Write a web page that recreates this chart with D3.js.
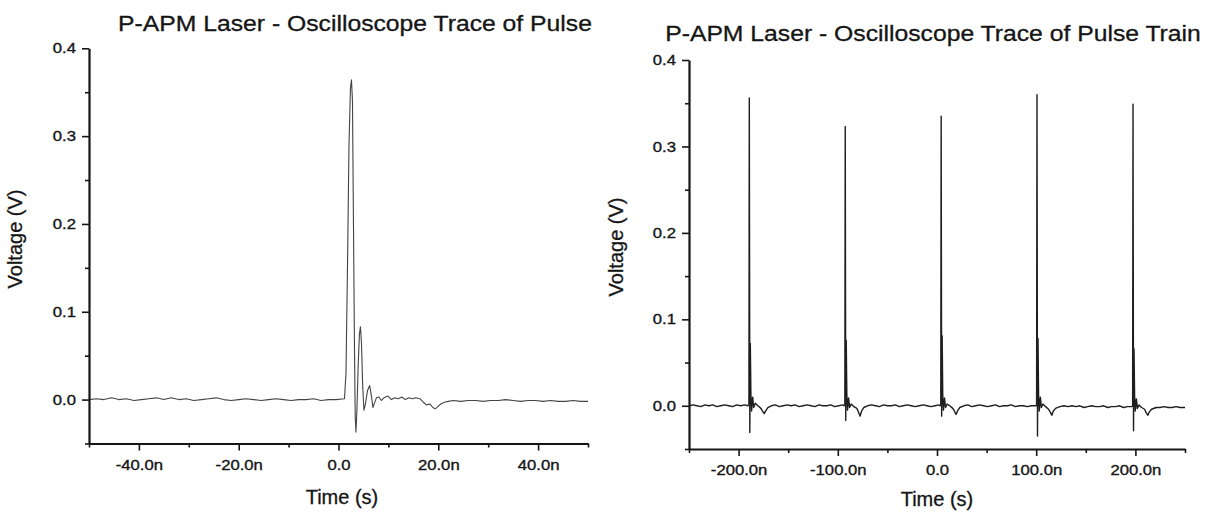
<!DOCTYPE html>
<html>
<head>
<meta charset="utf-8">
<script src="https://cdn.jsdelivr.net/npm/d3@7"></script>
<style>
  body { margin: 0; background: #fff; }
  svg { display: block; font-family: "Liberation Sans", Arial, sans-serif; }
</style>
</head>
<body>
<svg id="chart" width="1220" height="512"></svg>
<script>
// single pulse, [time (ns), voltage (V)]
var pulseTrace = [
  [-50, 0.000], [-48.5, 0.001], [-47, 0.000], [-45.5, 0.002], [-44, 0.000], [-42.5, 0.001],
  [-41, -0.001], [-39.5, 0.000], [-38, 0.001], [-36.5, 0.002], [-35, 0.000], [-33.5, 0.002],
  [-32, 0.000], [-30.5, 0.001], [-29, -0.001], [-27.5, 0.000], [-26, 0.001], [-24.5, 0.002],
  [-23, 0.000], [-21.5, -0.001], [-20, 0.000], [-18.5, 0.001], [-17, 0.000], [-15.5, -0.001],
  [-14, 0.000], [-12.5, 0.001], [-11, 0.000], [-9.5, -0.001], [-8, 0.000], [-6.5, 0.000],
  [-5, 0.001], [-3.5, -0.001], [-2, 0.000], [-0.5, 0.000], [1.2, 0.001],
  [1.5, 0.030], [1.8, 0.150], [2.1, 0.290], [2.4, 0.355], [2.6, 0.364], [2.8, 0.340],
  [3.0, 0.200], [3.2, 0.060], [3.35, -0.020], [3.5, -0.037], [3.7, -0.010], [3.95, 0.040],
  [4.2, 0.075], [4.4, 0.083], [4.6, 0.065], [4.85, 0.015], [5.1, -0.012], [5.4, -0.005],
  [5.8, 0.010], [6.25, 0.016], [6.6, 0.004], [6.9, -0.009], [7.2, -0.004], [7.6, 0.002],
  [8.1, 0.003], [8.6, -0.001], [9.1, 0.002], [9.9, 0.004], [10.6, 0.000], [11.3, 0.002],
  [12.0, 0.001], [12.7, 0.003], [13.4, 0.000], [14.1, 0.002], [14.8, 0.001], [15.5, 0.002],
  [16.3, 0.001], [17.0, -0.003], [17.6, -0.006], [18.3, -0.005], [18.9, -0.009], [19.4, -0.0105],
  [19.9, -0.008], [20.5, -0.005], [21.2, -0.003], [22.0, -0.002], [23, -0.001], [24.5, -0.002],
  [26, -0.001], [27.5, -0.001], [29, -0.002], [30.5, -0.001], [32, -0.001], [33.5, 0.000],
  [35, -0.001], [36.5, -0.002], [38, -0.001], [39.5, -0.001], [41, -0.002], [42.5, -0.001],
  [44, -0.002], [45.5, -0.002], [47, -0.001], [48.5, -0.002], [50, -0.002]
];

// pulse train, [time (ns), voltage (V)]
var trainTrace = [
  [-250, 0.000], [-246, 0.001], [-242, 0.000], [-238, -0.001], [-234, 0.001], [-230, 0.000],
  [-226, 0.001], [-222, -0.001], [-218, 0.000], [-214, 0.001], [-210, 0.000], [-206, -0.001],
  [-202, 0.001], [-198, 0.000], [-194, 0.001], [-190.8, 0.000],
  [-189.6, 0.002], [-189.2, 0.356], [-188.7, -0.031], [-188.2, 0.072], [-187.6, 0.013],
  [-186.9, -0.006], [-185.8, 0.010], [-184.8, -0.002], [-183.2, 0.003], [-180.5, 0.000],
  [-177.5, -0.003], [-176, -0.006], [-174.2, -0.009], [-172.7, -0.006], [-170.5, -0.002], [-167, 0.000],
  [-163, 0.001], [-159, -0.001], [-155, 0.000], [-151, 0.001], [-147, 0.000], [-143, 0.001],
  [-139, -0.001], [-135, 0.000], [-131, 0.001], [-127, 0.000], [-123, -0.001], [-119, 0.001],
  [-115, 0.000], [-111, 0.000], [-107, 0.001], [-103, -0.001], [-99, 0.000], [-95, 0.001], [-93.8, 0.000],
  [-92.9, 0.001], [-92.5, 0.323], [-92.0, -0.017], [-91.5, 0.076], [-90.9, 0.014],
  [-90.2, -0.005], [-89.1, 0.009], [-88.1, -0.002], [-86.5, 0.002], [-83.8, -0.001],
  [-80.8, -0.003], [-79.3, -0.007], [-77.5, -0.012], [-76, -0.006], [-73.8, -0.002], [-70, 0.000],
  [-66, 0.001], [-62, 0.000], [-58, -0.001], [-54, 0.001], [-50, 0.000], [-46, 0.000],
  [-42, 0.001], [-38, -0.001], [-34, 0.000], [-30, 0.001], [-26, 0.000], [-22, -0.001],
  [-18, 0.000], [-14, 0.001], [-10, 0.000], [-6, -0.001], [-2, 0.000], [2, 0.001], [3.0, 0.000],
  [3.8, 0.001], [4.2, 0.335], [4.7, -0.012], [5.2, 0.081], [5.8, 0.012],
  [6.5, -0.005], [7.6, 0.009], [8.6, -0.002], [10.2, 0.002], [12.9, 0.000],
  [15.9, -0.003], [17.4, -0.006], [19.2, -0.010], [20.7, -0.006], [22.9, -0.002], [27, 0.000],
  [31, 0.001], [35, -0.001], [39, 0.000], [43, 0.001], [47, 0.000], [51, -0.001],
  [55, 0.000], [59, 0.001], [63, -0.001], [67, 0.000], [71, 0.000], [75, 0.001],
  [79, -0.001], [83, 0.000], [87, 0.000], [91, -0.001], [95, 0.000], [99.6, 0.000],
  [100.4, 0.001], [100.8, 0.360], [101.3, -0.035], [101.8, 0.078], [102.4, 0.013],
  [103.1, -0.006], [104.2, 0.010], [105.2, -0.002], [106.8, 0.002], [109.5, -0.001],
  [112.5, -0.004], [114, -0.007], [115.8, -0.011], [117.3, -0.006], [119.5, -0.003], [124, -0.001],
  [128, 0.000], [132, -0.001], [136, 0.000], [140, -0.001], [144, 0.000], [148, -0.002],
  [152, -0.001], [156, 0.000], [160, -0.001], [164, -0.001], [168, 0.000], [172, -0.002],
  [176, -0.001], [180, -0.001], [184, 0.000], [188, -0.002], [192, -0.001], [196.4, -0.001],
  [197.2, 0.000], [197.6, 0.349], [198.1, -0.029], [198.6, 0.066], [199.2, 0.011],
  [199.9, -0.006], [201, 0.008], [202, -0.003], [203.6, 0.001], [206.3, -0.002],
  [209.3, -0.004], [210.8, -0.008], [212.6, -0.011], [214.1, -0.007], [216.3, -0.004], [221, -0.002],
  [225, -0.002], [229, -0.001], [233, -0.002], [237, -0.002], [241, -0.001], [245, -0.002], [250, -0.002]
];

var pulseMajor = [-40, -20, 0, 20, 40];
var pulseLabels = ["-40.0n", "-20.0n", "0.0", "20.0n", "40.0n"];
var pulseMinor = [-50, -30, -10, 10, 30, 50];

var trainMajor = [-200, -100, 0, 100, 200];
var trainLabels = ["-200.0n", "-100.0n", "0.0", "100.0n", "200.0n"];
var trainMinor = [-250, -150, -50, 50, 150, 250];

var voltMajor = [0, 0.1, 0.2, 0.3, 0.4];
var voltLabels = ["0.0", "0.1", "0.2", "0.3", "0.4"];
var voltMinor = [-0.05, 0.05, 0.15, 0.25, 0.35];

var svg = d3.select("#chart");
var ink = "#151515";
var stretch = 1.15; // the scanned text is a bit wider than the font

function panel(cfg) {
  var x = d3.scaleLinear().domain(cfg.xDomain).range([cfg.left, cfg.right]),
      y = d3.scaleLinear().domain([-0.05, 0.4]).range([cfg.bottom, cfg.top]);

  var g = svg.append("g");

  // trace
  var line = d3.line()
      .x(function(d) { return x(d[0]); })
      .y(function(d) { return y(d[1]); });

  g.append("path")
      .datum(cfg.data)
      .attr("fill", "none")
      .attr("stroke", cfg.lineColor)
      .attr("stroke-width", cfg.lineWidth)
      .attr("stroke-linejoin", "round")
      .attr("d", line);

  // minor ticks
  g.append("g")
      .attr("transform", "translate(0," + cfg.bottom + ")")
      .call(d3.axisBottom(x).tickValues(cfg.xMinor).tickSize(4).tickFormat(""))
      .call(function(a) { a.select(".domain").remove(); });
  g.append("g")
      .attr("transform", "translate(" + cfg.left + ",0)")
      .call(d3.axisLeft(y).tickValues(voltMinor).tickSize(4).tickFormat(""))
      .call(function(a) { a.select(".domain").remove(); });

  // major axes
  var xAxis = g.append("g")
      .attr("transform", "translate(0," + cfg.bottom + ")")
      .call(d3.axisBottom(x).tickValues(cfg.xMajor)
          .tickFormat(function(d, i) { return cfg.xLabels[i]; })
          .tickSize(7).tickPadding(9).tickSizeOuter(0));

  var yAxis = g.append("g")
      .attr("transform", "translate(" + cfg.left + ",0)")
      .call(d3.axisLeft(y).tickValues(voltMajor)
          .tickFormat(function(d, i) { return voltLabels[i]; })
          .tickSize(7).tickPadding(6).tickSizeOuter(0));

  g.selectAll(".tick line").attr("stroke", ink).attr("stroke-width", 1.6);
  g.selectAll(".domain").attr("stroke", ink).attr("stroke-width", 2.2);
  g.selectAll(".tick text")
      .attr("font-family", "Liberation Sans, Arial, sans-serif")
      .attr("font-size", 14.5)
      .attr("fill", ink)
      .attr("stroke", ink)
      .attr("stroke-width", 0.35);
  xAxis.selectAll(".tick text").attr("transform", "scale(" + stretch + ",1)");
  yAxis.selectAll(".tick text")
      .attr("x", -13 / stretch)
      .attr("transform", "scale(" + stretch + ",1)");

  // titles
  g.append("text")
      .attr("transform", "translate(" + cfg.titleX + "," + cfg.titleY + ") scale(" + stretch + ",1)")
      .attr("text-anchor", "middle")
      .attr("font-size", 21.5)
      .attr("fill", ink)
      .attr("stroke", ink)
      .attr("stroke-width", 0.3)
      .text(cfg.title);

  g.append("text")
      .attr("x", cfg.timeX)
      .attr("y", cfg.timeY)
      .attr("text-anchor", "middle")
      .attr("font-size", 20)
      .attr("fill", ink)
      .attr("stroke", ink)
      .attr("stroke-width", 0.3)
      .text("Time (s)");

  g.append("text")
      .attr("transform", "translate(" + cfg.voltX + "," + cfg.voltY + ") rotate(-90)")
      .attr("text-anchor", "middle")
      .attr("font-size", 20)
      .attr("fill", ink)
      .attr("stroke", ink)
      .attr("stroke-width", 0.3)
      .text("Voltage (V)");
}

panel({
  data: pulseTrace, xDomain: [-50, 50],
  left: 89, right: 588, top: 48.3, bottom: 443.5,
  xMajor: pulseMajor, xLabels: pulseLabels, xMinor: pulseMinor,
  lineColor: "#444", lineWidth: 1.1,
  title: "P-APM Laser - Oscilloscope Trace of Pulse", titleX: 355, titleY: 30.5,
  timeX: 342, timeY: 504, voltX: 22, voltY: 239
});

panel({
  data: trainTrace, xDomain: [-250, 250],
  left: 689, right: 1185, top: 60, bottom: 449,
  xMajor: trainMajor, xLabels: trainLabels, xMinor: trainMinor,
  lineColor: "#1e1e1e", lineWidth: 1.4,
  title: "P-APM Laser - Oscilloscope Trace of Pulse Train", titleX: 933, titleY: 40.5,
  timeX: 937, timeY: 506, voltX: 623, voltY: 247
});
</script>
</body>
</html>
